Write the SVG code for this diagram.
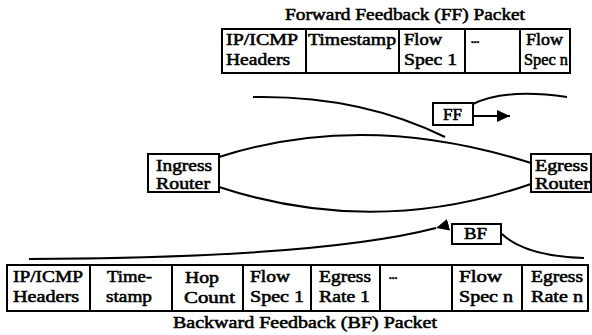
<svg xmlns="http://www.w3.org/2000/svg" width="592" height="335" viewBox="0 0 592 335">
  <style>
    .box { fill: #fff; stroke: #000; stroke-width: 2; }
    .div { stroke: #000; stroke-width: 2; }
    .wire { fill: none; stroke: #000; stroke-width: 2; }
    text { font-family: "Liberation Serif", "Times New Roman", serif; font-size: 16.5px; fill: #000; stroke: #000; stroke-width: 0.55; }
    .dots { font-size: 11px; font-weight: bold; }
  </style>
  <defs>
    <marker id="head" markerUnits="userSpaceOnUse" markerWidth="13" markerHeight="12" refX="13" refY="6" orient="auto">
      <path d="M0,0 L13,6 L0,12 z" fill="#000"/>
    </marker>
  </defs>

  <!-- Forward feedback packet layout -->
  <g id="ff-packet">
    <text x="285" y="20" textLength="240" lengthAdjust="spacingAndGlyphs">Forward Feedback (FF) Packet</text>
    <rect class="box" x="222" y="29" width="348" height="44"/>
    <line class="div" x1="306" y1="29" x2="306" y2="73"/>
    <line class="div" x1="399" y1="29" x2="399" y2="73"/>
    <line class="div" x1="465" y1="29" x2="465" y2="73"/>
    <line class="div" x1="520" y1="29" x2="520" y2="73"/>
    <text x="226" y="45" textLength="72" lengthAdjust="spacingAndGlyphs">IP/ICMP</text>
    <text x="226" y="65" textLength="64" lengthAdjust="spacingAndGlyphs">Headers</text>
    <text x="308" y="45" textLength="88" lengthAdjust="spacingAndGlyphs">Timestamp</text>
    <text x="404" y="45" textLength="38" lengthAdjust="spacingAndGlyphs">Flow</text>
    <text x="404" y="65" textLength="53" lengthAdjust="spacingAndGlyphs">Spec 1</text>
    <text class="dots" x="471" y="43">...</text>
    <text x="526" y="45" textLength="37" lengthAdjust="spacingAndGlyphs">Flow</text>
    <text x="524" y="65" textLength="44" lengthAdjust="spacingAndGlyphs">Spec n</text>
  </g>

  <!-- Routers -->
  <g id="ingress">
    <rect class="box" x="148" y="154" width="71" height="38"/>
    <text x="156" y="171" textLength="56" lengthAdjust="spacingAndGlyphs">Ingress</text>
    <text x="156" y="189" textLength="54" lengthAdjust="spacingAndGlyphs">Router</text>
  </g>
  <g id="egress">
    <rect class="box" x="531" y="154" width="60" height="38"/>
    <text x="535" y="171" textLength="53" lengthAdjust="spacingAndGlyphs">Egress</text>
    <text x="535" y="189" textLength="55" lengthAdjust="spacingAndGlyphs">Router</text>
  </g>

  <!-- Feedback packets in transit -->
  <g id="ff">
    <rect class="box" x="433" y="103" width="40" height="22"/>
    <text x="443" y="120" textLength="19" lengthAdjust="spacingAndGlyphs">FF</text>
  </g>
  <g id="bf">
    <rect class="box" x="452" y="224" width="49" height="20"/>
    <text x="464" y="239" textLength="23" lengthAdjust="spacingAndGlyphs">BF</text>
  </g>

  <!-- Backward feedback packet layout -->
  <g id="bf-packet">
    <rect class="box" x="7" y="265" width="581" height="46"/>
    <line class="div" x1="90" y1="265" x2="90" y2="311"/>
    <line class="div" x1="172" y1="265" x2="172" y2="311"/>
    <line class="div" x1="243" y1="265" x2="243" y2="311"/>
    <line class="div" x1="311" y1="265" x2="311" y2="311"/>
    <line class="div" x1="380" y1="265" x2="380" y2="311"/>
    <line class="div" x1="452" y1="265" x2="452" y2="311"/>
    <line class="div" x1="522" y1="265" x2="522" y2="311"/>
    <text x="13" y="282" textLength="70" lengthAdjust="spacingAndGlyphs">IP/ICMP</text>
    <text x="13" y="302" textLength="66" lengthAdjust="spacingAndGlyphs">Headers</text>
    <text x="107" y="282" textLength="45" lengthAdjust="spacingAndGlyphs">Time-</text>
    <text x="106" y="302" textLength="46" lengthAdjust="spacingAndGlyphs">stamp</text>
    <text x="185" y="283" textLength="34" lengthAdjust="spacingAndGlyphs">Hop</text>
    <text x="184" y="303" textLength="51" lengthAdjust="spacingAndGlyphs">Count</text>
    <text x="250" y="282" textLength="40" lengthAdjust="spacingAndGlyphs">Flow</text>
    <text x="250" y="302" textLength="54" lengthAdjust="spacingAndGlyphs">Spec 1</text>
    <text x="319" y="282" textLength="52" lengthAdjust="spacingAndGlyphs">Egress</text>
    <text x="319" y="302" textLength="51" lengthAdjust="spacingAndGlyphs">Rate 1</text>
    <text class="dots" x="389" y="279">...</text>
    <text x="459" y="282" textLength="43" lengthAdjust="spacingAndGlyphs">Flow</text>
    <text x="459" y="302" textLength="54" lengthAdjust="spacingAndGlyphs">Spec n</text>
    <text x="531" y="282" textLength="52" lengthAdjust="spacingAndGlyphs">Egress</text>
    <text x="531" y="302" textLength="52" lengthAdjust="spacingAndGlyphs">Rate n</text>
    <text x="173" y="328" textLength="264" lengthAdjust="spacingAndGlyphs">Backward Feedback (BF) Packet</text>
  </g>

  <!-- Connectors -->
  <g id="connectors">
    <path class="wire" d="M219,157 Q365,110 531,163"/>
    <path class="wire" d="M219,187 Q375,238 531,184"/>
    <path class="wire" d="M253,97 Q360,95 445,137"/>
    <path class="wire" d="M473,104 Q505,88 567,97"/>
    <path class="wire" d="M473,116 L510,116" marker-end="url(#head)"/>
    <path class="wire" d="M436,228 Q320,258 29,259" marker-start="url(#head)"/>
    <path class="wire" d="M502,234 Q525,256 584,258"/>
  </g>
</svg>
